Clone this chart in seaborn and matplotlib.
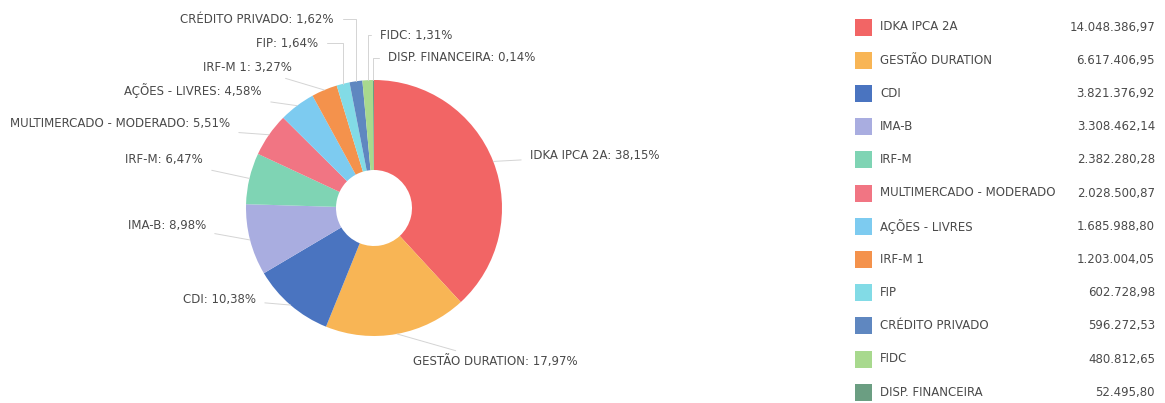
import numpy as np
import matplotlib
matplotlib.use("Agg")
import matplotlib.pyplot as plt
import seaborn as sns
from matplotlib.patches import Rectangle

# Data
CATEGORIES = ["IDKA IPCA 2A", "GESTÃO DURATION", "CDI", "IMA-B", "IRF-M",
              "MULTIMERCADO - MODERADO", "AÇÕES - LIVRES", "IRF-M 1", "FIP",
              "CRÉDITO PRIVADO", "FIDC", "DISP. FINANCEIRA"]
VALUES = [14048386.97, 6617406.95, 3821376.92, 3308462.14, 2382280.28,
          2028500.87, 1685988.80, 1203004.05, 602728.98, 596272.53,
          480812.65, 52495.80]
COLORS = ["#f26565", "#f8b555", "#4a74c0", "#a9ade0", "#7fd4b4",
          "#f17583", "#7dcbf0", "#f4924c", "#82dbe6", "#5f87c0",
          "#a8d98e", "#6b9e82"]

# Layout (pixel coordinates, y measured from top of image)
W, H = 1165, 403
CX, CY, R_OUT, R_IN = 374, 208, 128, 38
LABEL_POS = [(530, 156, "left"), (413, 362, "left"), (256, 299, "right"),
             (206, 225, "right"), (203, 160, "right"), (230, 124, "right"),
             (262, 91, "right"), (292, 67, "right"), (318, 43, "right"),
             (334, 19, "right"), (380, 35, "left"), (388, 58, "left")]
ELBOW = [False, False, False, False, False, False,
         False, False, True, True, True, True]
LEG_Y0, LEG_DY = 27, 33.2
TEXT_COLOR = "#4a4a4a"

sns.set_theme(style="white")
plt.rcParams["font.family"] = ["DejaVu Sans"]


def fmt_br(v):
    s = f"{v:,.2f}"
    return s.replace(",", "X").replace(".", ",").replace("X", ".")


def main():
    palette = sns.color_palette(COLORS)
    fig = plt.figure(figsize=(W / 100, H / 100), dpi=100)
    ax = fig.add_axes([0, 0, 1, 1])

    wedges, _ = ax.pie(
        VALUES, colors=palette, startangle=90, counterclock=False,
        center=(CX, H - CY), radius=R_OUT,
        wedgeprops={"width": R_OUT - R_IN, "linewidth": 0}, frame=True
    )
    ax.set_xlim(0, W)
    ax.set_ylim(0, H)
    ax.set_aspect("auto")
    ax.axis("off")

    total = sum(VALUES)
    for w, cat, val, (tx, ty, ha), elbow in zip(wedges, CATEGORIES, VALUES, LABEL_POS, ELBOW):
        ang = np.deg2rad((w.theta1 + w.theta2) / 2)
        anchor = (CX + R_OUT * np.cos(ang), H - CY + R_OUT * np.sin(ang))
        pct = f"{val / total * 100:.2f}".replace(".", ",")
        conn = "angle,angleA=0,angleB=90,rad=0" if elbow else "arc3"
        ax.annotate(
            f"{cat}: {pct}%", xy=anchor, xytext=(tx, H - ty),
            ha=ha, va="center", fontsize=8.5, color=TEXT_COLOR,
            arrowprops=dict(arrowstyle="-", color="#d4d4d4", lw=0.7,
                            shrinkA=4, shrinkB=0, connectionstyle=conn)
        )

    # Legend table
    for i, (cat, val, col) in enumerate(zip(CATEGORIES, VALUES, palette)):
        y = H - (LEG_Y0 + i * LEG_DY)
        ax.add_patch(Rectangle((855, y - 8.5), 17, 17, color=col, lw=0))
        ax.text(880, y, cat, ha="left", va="center", fontsize=8.5, color=TEXT_COLOR)
        ax.text(1155, y, fmt_br(val), ha="right", va="center", fontsize=8.5, color=TEXT_COLOR)

    fig.savefig("out.png", dpi=100, facecolor="white")
    plt.close(fig)


if __name__ == "__main__":
    main()
